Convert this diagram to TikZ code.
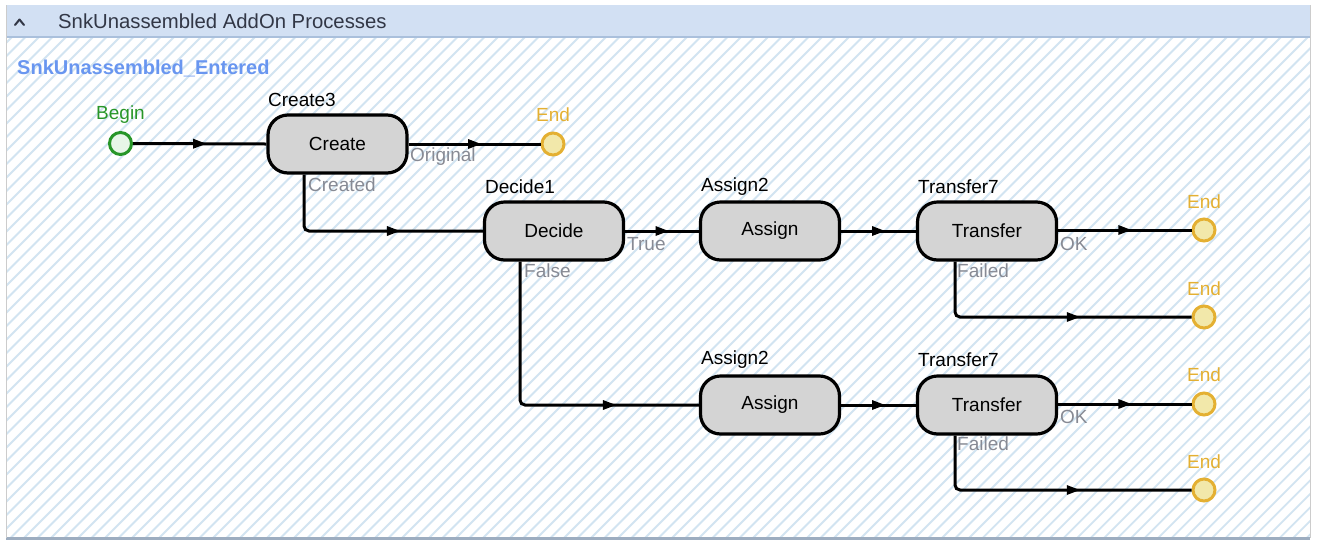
\documentclass[tikz,border=0pt]{standalone}
\usepackage{fontspec}
\setmainfont{Liberation Sans}
\usetikzlibrary{decorations.markings,calc}
\definecolor{hdr}{RGB}{210,224,243}
\definecolor{hdrline}{RGB}{170,192,220}
\definecolor{hatch}{RGB}{210,228,241}
\definecolor{nodefill}{RGB}{212,212,212}
\definecolor{begcol}{RGB}{40,150,40}
\definecolor{begfill}{RGB}{232,246,232}
\definecolor{endcol}{RGB}{228,176,50}
\definecolor{endfill}{RGB}{242,232,170}
\definecolor{portcol}{RGB}{135,138,148}
\definecolor{titleblue}{RGB}{105,150,240}
\definecolor{titlegray}{RGB}{50,55,70}
\tikzset{
  proc/.style={draw=black, line width=3.2pt, fill=nodefill, rounded corners=20pt,
    minimum width=139pt, minimum height=58pt, inner sep=0pt, font=\fontsize{19}{19}\selectfont},
  nlabel/.style={anchor=west, inner sep=0pt, font=\fontsize{19}{19}\selectfont, text=black},
  plabel/.style={anchor=west, inner sep=0pt, font=\fontsize{19}{19}\selectfont, text=portcol},
  begnode/.style={circle, draw=begcol, fill=begfill, line width=3pt, minimum size=22pt, inner sep=0pt},
  endnode/.style={circle, draw=endcol, fill=endfill, line width=3pt, minimum size=22pt, inner sep=0pt},
  endlabel/.style={inner sep=0pt, font=\fontsize{19}{19}\selectfont, text=endcol},
  conn/.style={draw=black, line width=3pt, rounded corners=5pt},
  midarr/.style={decoration={markings, mark=at position #1 with {\fill[black, sharp corners] (-6.5pt,5pt) -- (6.5pt,0pt) -- (-6.5pt,-5pt) -- cycle;}}, postaction=decorate},
  midarr/.default=0.5
}
\begin{document}
\begin{tikzpicture}[x=1pt,y=-1pt]
\useasboundingbox (0,0) rectangle (1320,542);
\fill[white] (0,0) rectangle (1320,542);
% hatched panel
\begin{scope}
\clip (6,37) rectangle (1310,537);
\foreach \i in {0,...,140} {
  \draw[hatch, line width=1.8pt] ({\i*13.5-520},542) -- ({\i*13.5-520+520},22);
}
\end{scope}
% header
\fill[hdr] (6,5) rectangle (1310,37);
\draw[hdrline, line width=1.5pt] (6,37) -- (1310,37);
\draw[hdrline!70!gray, line width=3pt] (6,538) -- (1310,538);
\draw[gray!40, line width=1pt] (6,5) -- (6,538);
\draw[gray!40, line width=1pt] (1310,5) -- (1310,538);
\draw[titlegray, line width=2pt, line cap=round, line join=round] (15,25) -- (19.5,19.5) -- (24,25);
\node[anchor=west, inner sep=0pt, text=titlegray, font=\fontsize{20.3}{20.3}\selectfont] (title) at (58,21) {SnkUnassembled AddOn Processes};
\node[anchor=west, inner sep=0pt, text=titleblue, font=\fontsize{20}{20}\selectfont\bfseries] (proc) at (17,68) {SnkUnassembled\_Entered};

% nodes
\node[begnode] (begin) at (120.5,143.5) {};
\node[inner sep=0pt, text=begcol, font=\fontsize{19}{19}\selectfont] (beginlbl) at (120.5,115) {Begin};

\node[proc] (create) at (337.5,144) {Create};
\node[nlabel] (createlbl) at (268,100) {Create3};
\node[endnode] (end1) at (553,144) {};
\node[endlabel] (end1lbl) at (553,115) {End};

\node[proc] (decide) at (554,231) {Decide};
\node[nlabel] (decidelbl) at (485,187) {Decide1};

\node[proc] (assign1) at (770,231) {Assign};
\node[nlabel] (assign1lbl) at (701,187) {Assign2};
\node[proc] (transfer1) at (987,231) {Transfer};
\node[nlabel] (transfer1lbl) at (918,187) {Transfer7};
\node[endnode] (end2) at (1204,230) {};
\node[endlabel] (end2lbl) at (1204,202) {End};
\node[endnode] (end3) at (1204,317) {};
\node[endlabel] (end3lbl) at (1204,289) {End};

\node[proc] (assign2) at (770,405) {Assign};
\node[nlabel] (assign2lbl) at (701,360) {Assign2};
\node[proc] (transfer2) at (987,405) {Transfer};
\node[nlabel] (transfer2lbl) at (918,360) {Transfer7};
\node[endnode] (end4) at (1204,404) {};
\node[endlabel] (end4lbl) at (1204,375) {End};
\node[endnode] (end5) at (1204,490) {};
\node[endlabel] (end5lbl) at (1204,462) {End};

% port labels
\node[plabel] (lorig) at (410,157) {Original};
\node[plabel] (lcreated) at (308,185) {Created};
\node[plabel] (ltrue) at (627,244) {True};
\node[plabel] (lfalse) at (524,271) {False};
\node[plabel] (lok1) at (1060,244) {OK};
\node[plabel] (lfail1) at (957,271) {Failed};
\node[plabel] (lok2) at (1060,417) {OK};
\node[plabel] (lfail2) at (957,444) {Failed};

% connectors
\coordinate (cs) at ($(create.south)+(-33.5,0)$);
\coordinate (ds) at ($(decide.south)+(-34,0)$);
\coordinate (t1s) at ($(transfer1.south)+(-32,0)$);
\coordinate (t2s) at ($(transfer2.south)+(-32,0)$);

\draw[conn, midarr] (begin.east) -- (create.west);
\draw[conn, midarr] (create.east) -- (end1.west);

\draw[conn] (cs) |- (decide.west);
\path[midarr] (cs |- decide.west) -- (decide.west);

\draw[conn, midarr] (decide.east) -- (assign1.west);
\draw[conn, midarr] (assign1.east) -- (transfer1.west);
\draw[conn, midarr] (transfer1.east |- end2.west) -- (end2.west);
\draw[conn] (t1s) |- (end3.west);
\path[midarr] (t1s |- end3.west) -- (end3.west);

\draw[conn] (ds) |- (assign2.west);
\path[midarr] (ds |- assign2.west) -- (assign2.west);
\draw[conn, midarr] (assign2.east) -- (transfer2.west);
\draw[conn, midarr] (transfer2.east |- end4.west) -- (end4.west);
\draw[conn] (t2s) |- (end5.west);
\path[midarr] (t2s |- end5.west) -- (end5.west);
\end{tikzpicture}
\end{document}
